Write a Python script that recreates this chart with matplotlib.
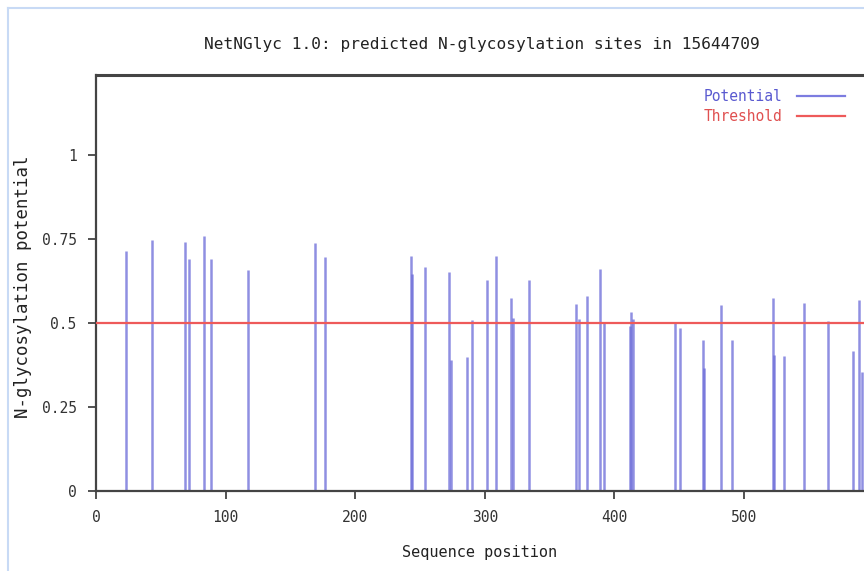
import matplotlib
matplotlib.use('Agg')
import matplotlib.pyplot as plt
from matplotlib.lines import Line2D

# N-glycosylation sites (sequence position, potential)
positions = [23, 43, 69, 72, 83, 89, 117, 169, 177, 243, 244, 254, 272, 274,
             286, 290, 302, 309, 320, 322, 334, 370, 373, 379, 389, 392, 412,
             413, 414, 447, 451, 468, 469, 482, 491, 522, 523, 531, 546, 565,
             584, 589, 591]
potential = [0.714, 0.747, 0.742, 0.69, 0.759, 0.69, 0.658, 0.737, 0.696, 0.70,
             0.645, 0.668, 0.653, 0.39, 0.40, 0.509, 0.628, 0.699, 0.575, 0.514,
             0.628, 0.556, 0.511, 0.581, 0.66, 0.502, 0.49, 0.534, 0.511, 0.50,
             0.485, 0.449, 0.366, 0.554, 0.449, 0.573, 0.405, 0.402, 0.56, 0.507,
             0.418, 0.568, 0.354]
threshold = 0.5
x_ticks = [0, 100, 200, 300, 400, 500]
y_ticks = [0, 0.25, 0.5, 0.75, 1]
y_ticklabels = ['0', '0.25', '0.5', '0.75', '1']

plt.rcParams['font.family'] = ['DejaVu Sans Mono']

fig = plt.figure(figsize=(8.64, 5.71), dpi=100)
ax = fig.add_axes([96 / 864, 1 - 491 / 571, 1 - 96 / 864, (491 - 75) / 571])

pot_color = '#6a6ad8'
thr_color = '#ee5a5a'
ax.vlines(positions, 0, potential, color=pot_color, alpha=0.75, linewidth=1.8)
ax.axhline(threshold, color=thr_color, linewidth=1.6, zorder=5)

ax.set_xlim(0, 592.6)
ax.set_ylim(0, 1.238)
ax.set_xticks(x_ticks)
ax.set_yticks(y_ticks)
ax.set_yticklabels(y_ticklabels)
ax.tick_params(direction='out', length=6, width=1.3, colors='#444444',
               labelsize=10.5, labelcolor='#333333', pad=8)

for s in ['left', 'top', 'bottom']:
    ax.spines[s].set_color('#444444')
    ax.spines[s].set_linewidth(1.6)
ax.spines['top'].set_linewidth(2.2)
ax.spines['right'].set_visible(False)

ax.set_xlabel('Sequence position', fontsize=11, color='#222222', labelpad=14)
ax.set_ylabel('N-glycosylation potential', fontsize=12.5, color='#222222')
ax.yaxis.set_label_coords(-64 / 768, 0.49)
fig.text(482 / 864, 1 - 44 / 571, 'NetNGlyc 1.0: predicted N-glycosylation sites in 15644709',
         ha='center', va='center', fontsize=11.6, color='#222222')

handles = [Line2D([], [], color='#7c7ce0', linewidth=1.6),
           Line2D([], [], color=thr_color, linewidth=1.6)]
ax.legend(handles, ['Potential', 'Threshold'], loc='upper right',
          bbox_to_anchor=(0.975, 0.966), frameon=False, markerfirst=False,
          labelcolor=['#5a5ad0', '#e05050'], fontsize=10.5, handlelength=3.3,
          handletextpad=1.0, labelspacing=0.35, borderpad=0, borderaxespad=0)

# screenshot frame
fig.add_artist(Line2D([8 / 864, 8 / 864], [0, 1 - 8 / 571], color='#c8daf5', linewidth=1.5))
fig.add_artist(Line2D([8 / 864, 1], [1 - 8 / 571, 1 - 8 / 571], color='#c8daf5', linewidth=1.5))

fig.savefig('out.png', dpi=100)
